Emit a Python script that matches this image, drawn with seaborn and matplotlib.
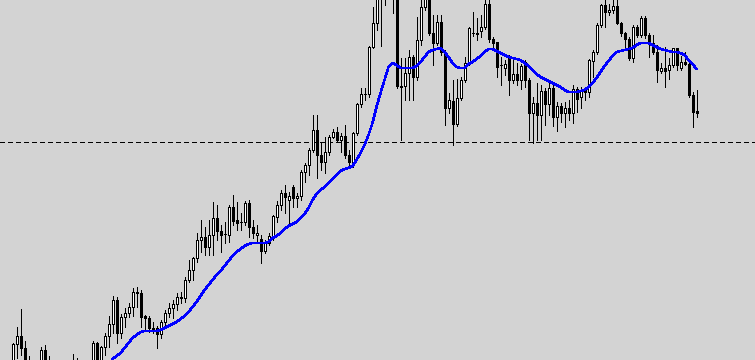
import numpy as np
import pandas as pd
import matplotlib
matplotlib.use("Agg")
import matplotlib.pyplot as plt
import seaborn as sns

# Price scale: values below are read as distance (in chart units) below the top
# of the visible price range; price = TOP - value.
TOP = 360

open_d = [372, 376, 370, 370, 344, 336, 348, 366, 370, 374,
          368, 350, 366, 370, 376, 378, 374, 372, 370, 362,
          368, 372, 370, 366, 343, 364, 347, 336, 324, 300,
          333, 317, 313, 307, 292, 293, 316, 318, 328, 328,
          334, 322, 313, 308, 304, 297, 298, 280, 270, 258,
          240, 237, 247, 235, 218, 231, 234, 235, 207, 220,
          222, 222, 203, 227, 235, 239, 251, 243, 237, 217,
          205, 193, 200, 187, 198, 196, 172, 165, 150, 130,
          155, 162, 152, 137, 132, 140, 136, 155, 162, 133,
          104, 94, 94, 47, 23, -10, -20, -30, -15, -10,
          86, 86, 73, 57, 77, 40, 7, -3, 33, 43,
          22, 52, 108, 101, 124, 98, 80, 63, 33, 33,
          31, 27, 4, 39, 42, 65, 68, 56, 80, 74,
          80, 62, 80, 113, 103, 115, 91, 104, 88, 117,
          106, 113, 108, 113, 89, 97, 88, 92, 61, 52,
          25, 5, 12, 10, 6, 23, 33, 39, 58, 27,
          35, 18, 35, 43, 52, 71, 68, 70, 65, 48,
          68, 62, 64, 95, 111]
high_d = [366, 368, 362, 343, 327, 309, 341, 356, 363, 364,
          347, 345, 356, 364, 368, 370, 366, 363, 354, 358,
          362, 364, 362, 341, 342, 346, 333, 316, 296, 297,
          314, 308, 303, 288, 287, 290, 315, 316, 322, 326,
          320, 310, 303, 300, 293, 292, 277, 260, 257, 233,
          220, 227, 220, 202, 205, 225, 222, 205, 195, 202,
          213, 201, 200, 220, 225, 235, 240, 233, 215, 201,
          190, 185, 192, 185, 193, 170, 163, 148, 115, 115,
          143, 137, 135, 129, 127, 133, 125, 150, 132, 103,
          88, 88, 46, 7, -20, -40, -45, -50, -40, -20,
          58, 58, 50, 55, 17, 0, -10, -10, 15, 15,
          15, 50, 93, 80, 79, 77, 57, 27, 12, 18,
          15, 0, 0, 37, 42, 57, 60, 55, 57, 63,
          64, 60, 78, 97, 83, 85, 88, 80, 85, 102,
          103, 102, 100, 85, 87, 87, 87, 59, 50, 23,
          4, 0, 4, 0, 0, 22, 32, 37, 25, 25,
          16, 16, 33, 35, 45, 63, 47, 58, 48, 48,
          56, 52, 63, 92, 90]
low_d = [380, 382, 378, 376, 358, 355, 372, 376, 380, 380,
         372, 372, 376, 382, 384, 386, 382, 378, 374, 374,
         378, 380, 376, 370, 370, 370, 355, 347, 333, 343,
         338, 327, 317, 316, 307, 327, 330, 332, 333, 348,
         338, 327, 317, 318, 310, 303, 302, 282, 280, 262,
         252, 255, 255, 255, 240, 252, 243, 242, 225, 230,
         230, 225, 237, 238, 242, 263, 253, 245, 240, 222,
         210, 213, 223, 207, 207, 200, 182, 175, 152, 178,
         170, 173, 155, 138, 142, 152, 158, 168, 167, 135,
         107, 100, 97, 48, 30, 46, 5, -3, 13, 88,
         140, 100, 100, 100, 80, 45, 10, 35, 65, 45,
         55, 125, 113, 145, 126, 100, 82, 65, 36, 40,
         37, 29, 42, 50, 77, 85, 75, 95, 83, 85,
         89, 87, 140, 143, 140, 140, 125, 115, 126, 131,
         122, 127, 120, 123, 112, 108, 100, 97, 77, 54,
         27, 27, 15, 13, 24, 36, 48, 60, 62, 37,
         37, 38, 57, 54, 82, 73, 87, 79, 67, 70,
         70, 65, 97, 127, 117]
close_d = [376, 370, 374, 344, 336, 348, 366, 370, 374, 368,
           350, 366, 370, 376, 378, 374, 372, 368, 362, 368,
           372, 370, 366, 343, 364, 347, 336, 324, 300, 333,
           317, 313, 307, 292, 293, 317, 318, 328, 329, 334,
           322, 313, 308, 304, 297, 298, 280, 270, 258, 240,
           237, 247, 235, 218, 231, 235, 234, 207, 221, 223,
           222, 203, 227, 233, 233, 251, 243, 236, 216, 205,
           193, 197, 196, 198, 196, 172, 165, 150, 130, 155,
           162, 152, 137, 132, 140, 136, 155, 162, 133, 104,
           94, 94, 47, 23, -10, -30, -35, -15, -5, 86,
           87, 73, 57, 77, 40, 7, -5, 33, 43, 22,
           52, 108, 100, 124, 98, 80, 63, 28, 33, 34,
           27, 4, 39, 43, 67, 65, 64, 80, 74, 80,
           66, 80, 113, 103, 115, 91, 104, 88, 117, 106,
           113, 108, 113, 89, 99, 90, 92, 60, 52, 25,
           5, 12, 10, 6, 23, 33, 39, 58, 27, 35,
           18, 35, 43, 52, 70, 68, 71, 65, 48, 65,
           62, 64, 95, 112, 113]

# moving average, starting at candle 28
ma_start = 28
ma_d = [359, 356, 353, 348, 343, 338, 335, 332, 331, 331,
        331, 331, 330, 328, 326, 324, 322, 319, 316, 312,
        307, 302, 296, 290, 285, 280, 275, 271, 266, 261,
        256, 252, 249, 246, 244, 243, 243, 243, 243, 242,
        238, 236, 233, 229, 226, 224, 222, 218, 214, 208,
        200, 194, 190, 187, 183, 179, 175, 171, 169, 168,
        166, 160, 153, 145, 135, 123, 107, 93, 80, 67,
        63, 65, 68, 68, 68, 68, 66, 62, 57, 52,
        50, 49, 48, 52, 57, 63, 67, 68, 68, 64,
        62, 59, 56, 52, 49, 49, 51, 53, 55, 57,
        58, 59, 60, 63, 66, 70, 74, 77, 79, 81,
        83, 85, 87, 90, 92, 92, 92, 91, 90, 87,
        83, 78, 72, 66, 61, 56, 52, 51, 50, 49,
        48, 45, 43, 43, 43, 45, 47, 49, 50, 51,
        52, 52, 53, 55, 60, 64, 69]

level_d = 142  # dashed horizontal level

BG = "#D3D3D3"

sns.set_theme(style="white")
plt.rcParams['font.family'] = ['DejaVu Sans']

n = len(open_d)
df = pd.DataFrame({
    "i": np.arange(n),
    "open": TOP - np.array(open_d, float),
    "high": TOP - np.array(high_d, float),
    "low": TOP - np.array(low_d, float),
    "close": TOP - np.array(close_d, float),
})
ma_df = pd.DataFrame({
    "i": np.arange(ma_start, ma_start + len(ma_d)),
    "ma": TOP - np.array(ma_d, float),
})

fig = plt.figure(figsize=(7.55, 3.6), dpi=100)
fig.patch.set_facecolor(BG)
ax = fig.add_axes([0, 0, 1, 1])
ax.set_facecolor(BG)

# dashed level line
ax.axhline(TOP - level_d, color="black", lw=0.75, linestyle=(0, (4, 3)),
           antialiased=False, zorder=1)

# wicks
ax.vlines(df["i"], df["low"], df["high"], color="black", lw=0.5,
          antialiased=False, zorder=2)

# bodies
bull = df["close"] >= df["open"]
bottoms = np.minimum(df["open"], df["close"])
heights = np.maximum(np.abs(df["close"] - df["open"]), 0.3)
colors = np.where(bull, "white", "black")
ax.bar(df["i"], heights, bottom=bottoms, width=0.5, color=colors,
       edgecolor="black", linewidth=0.5, antialiased=False, zorder=3)

# moving average
sns.lineplot(data=ma_df, x="i", y="ma", ax=ax, color="#0000FF", lw=1.1,
             antialiased=False, zorder=4, legend=False)

ax.set_xlim(-0.125, -0.125 + 755 / 4)
ax.set_ylim(0, TOP)
ax.set_axis_off()

fig.savefig("out.png", dpi=100, facecolor=BG)
